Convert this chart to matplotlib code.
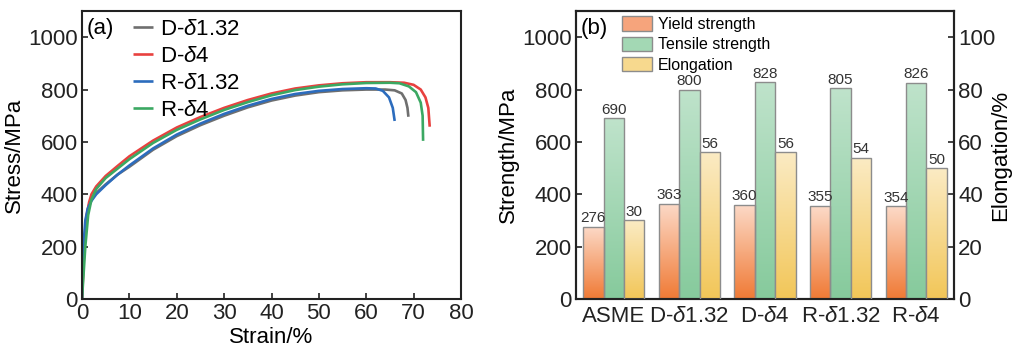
import numpy as np
import matplotlib
matplotlib.use("Agg")
import matplotlib.pyplot as plt
from matplotlib.colors import LinearSegmentedColormap
from matplotlib.patches import Patch

plt.rcParams["font.family"] = ["Liberation Sans", "DejaVu Sans"]
plt.rcParams["mathtext.fontset"] = "custom"
plt.rcParams["mathtext.rm"] = "Liberation Sans"
plt.rcParams["mathtext.it"] = "Liberation Sans:italic"
plt.rcParams["axes.linewidth"] = 1.5
plt.rcParams["axes.edgecolor"] = "#222222"

# ---- (a) stress-strain curves ----
series = ["D-$\\delta$1.32", "D-$\\delta$4", "R-$\\delta$1.32", "R-$\\delta$4"]
colors = ["#6f6f6f", "#e8413f", "#2c6cbd", "#3ba862"]

strain_d132 = [0, 0.4, 0.9, 1.5, 2, 3, 5, 7.5, 10, 15, 20, 25, 30, 35, 40, 45, 50, 55, 60, 64, 66, 67.5, 68.3, 68.7, 68.9]
stress_d132 = [0, 200, 310, 360, 380, 405, 438, 475, 505, 570, 622, 664, 700, 732, 758, 777, 790, 797, 800, 800, 797, 785, 760, 730, 696]

strain_d4 = [0, 0.5, 1, 1.5, 2, 3, 5, 7.5, 10, 15, 20, 25, 30, 35, 40, 45, 50, 55, 60, 65, 68, 70, 71.5, 72.5, 73.1, 73.4]
stress_d4 = [0, 200, 320, 370, 400, 430, 470, 508, 545, 605, 655, 695, 730, 760, 785, 804, 816, 824, 828, 828, 826, 818, 800, 770, 730, 658]

strain_r132 = [0, 0.3, 0.7, 1.2, 2, 3, 5, 7.5, 10, 15, 20, 25, 30, 35, 40, 45, 50, 55, 60, 62, 63.5, 64.8, 65.6, 66]
stress_r132 = [0, 200, 300, 345, 375, 400, 435, 475, 510, 575, 628, 670, 707, 738, 764, 783, 795, 802, 805, 804, 795, 770, 730, 680]

strain_r4 = [0, 0.7, 1.3, 2, 3, 5, 7.5, 10, 15, 20, 25, 30, 35, 40, 45, 50, 55, 60, 65, 67, 69, 70.5, 71.5, 71.9, 72.0]
stress_r4 = [0, 200, 320, 380, 420, 462, 498, 534, 596, 646, 686, 722, 752, 778, 798, 811, 820, 825, 826, 824, 812, 790, 750, 700, 604]

curves = [(strain_d132, stress_d132), (strain_d4, stress_d4),
          (strain_r132, stress_r132), (strain_r4, stress_r4)]

# ---- (b) mechanical properties ----
groups = ["ASME", "D-$\\delta$1.32", "D-$\\delta$4", "R-$\\delta$1.32", "R-$\\delta$4"]
yield_strength = [276, 363, 360, 355, 354]
tensile_strength = [690, 800, 828, 805, 826]
elongation = [30, 56, 56, 54, 50]

FS = 16

fig = plt.figure(figsize=(10.14, 3.51), dpi=100)
ax1 = fig.add_axes([82 / 1014, 52 / 351, 379 / 1014, 288 / 351])
ax2 = fig.add_axes([576 / 1014, 52 / 351, 378 / 1014, 288 / 351])

for (sx, sy), c, lab in zip(curves, colors, series):
    ax1.plot(sx, sy, color=c, lw=1.9, label=lab, solid_capstyle="butt")

ax1.set_xlim(0, 80)
ax1.set_ylim(0, 1100)
ax1.set_xticks(range(0, 81, 10))
ax1.set_yticks(range(0, 1001, 200))
ax1.tick_params(direction="in", length=4, width=1.2, labelsize=FS, colors="#222222", pad=3)
ax1.set_xlabel("Strain/%", fontsize=FS, labelpad=2)
ax1.set_ylabel("Stress/MPa", fontsize=FS, labelpad=2)
ax1.text(0.012, 0.975, "(a)", transform=ax1.transAxes, fontsize=FS, va="top", ha="left")
ax1.legend(loc="upper left", bbox_to_anchor=(0.10, 1.02), frameon=False, fontsize=FS,
           handlelength=0.9, handletextpad=0.3, labelspacing=0.28, borderaxespad=0.2)

# gradient bars
def gradient_bars(ax, x, h, w, top, bottom, label):
    bars = ax.bar(x, h, w, color="none", edgecolor="#8c8c8c", lw=1.0, label=label, zorder=3)
    cmap = LinearSegmentedColormap.from_list("g", [bottom, top])
    grad = np.linspace(0, 1, 256).reshape(-1, 1)
    for b in bars:
        x0, y0 = b.get_x(), b.get_y()
        im = ax.imshow(grad, cmap=cmap, aspect="auto", origin="lower",
                       extent=[x0, x0 + b.get_width(), y0, y0 + b.get_height()], zorder=2)
        im.set_clip_path(b)
    return bars

pos = np.arange(len(groups))
w = 0.27
y_top, y_bot = "#fcdac8", "#f07a35"
t_top, t_bot = "#bfe3cb", "#86ca9c"
e_top, e_bot = "#fbebc4", "#f2c658"

ax3 = ax2.twinx()
gradient_bars(ax2, pos - w, yield_strength, w, y_top, y_bot, "Yield strength")
gradient_bars(ax2, pos, tensile_strength, w, t_top, t_bot, "Tensile strength")
gradient_bars(ax3, pos + w, elongation, w, e_top, e_bot, "Elongation")

for xi, v in zip(pos - w, yield_strength):
    ax2.text(xi, v + 6, str(v), ha="center", va="bottom", fontsize=11, color="#333333")
for xi, v in zip(pos, tensile_strength):
    ax2.text(xi, v + 6, str(v), ha="center", va="bottom", fontsize=11, color="#333333")
for xi, v in zip(pos + w, elongation):
    ax3.text(xi, v + 0.6, str(v), ha="center", va="bottom", fontsize=11, color="#333333")

ax2.set_xlim(-0.5, len(groups) - 0.5)
ax2.set_ylim(0, 1100)
ax3.set_ylim(0, 110)
ax2.set_yticks(range(0, 1001, 200))
ax3.set_yticks(range(0, 101, 20))
ax2.set_xticks(pos)
ax2.set_xticklabels(groups)
ax2.tick_params(axis="y", direction="in", length=4, width=1.2, labelsize=FS, colors="#222222", pad=3)
ax2.tick_params(axis="x", length=0, labelsize=FS, colors="#222222", pad=5)
ax3.tick_params(axis="y", direction="in", length=4, width=1.2, labelsize=FS, colors="#222222", pad=3)
ax2.set_ylabel("Strength/MPa", fontsize=FS, labelpad=2)
ax3.set_ylabel("Elongation/%", fontsize=FS, rotation=90, labelpad=-4)
ax2.text(0.012, 0.975, "(b)", transform=ax2.transAxes, fontsize=FS, va="top", ha="left")

handles = [Patch(facecolor="#f6a47c", edgecolor="#8c8c8c", label="Yield strength"),
           Patch(facecolor="#a3d8b4", edgecolor="#8c8c8c", label="Tensile strength"),
           Patch(facecolor="#f7d98e", edgecolor="#8c8c8c", label="Elongation")]
ax3.legend(handles=handles, loc="upper left", bbox_to_anchor=(0.096, 1.015), frameon=False,
           fontsize=11.5, handlelength=1.9, handleheight=1.0, handletextpad=0.35,
           labelspacing=0.3, borderaxespad=0.2)

fig.savefig("out.png", dpi=100)
